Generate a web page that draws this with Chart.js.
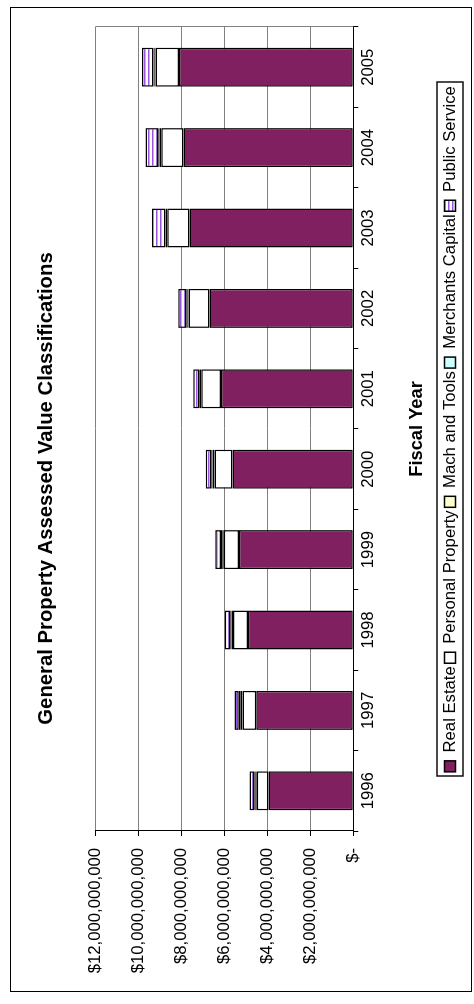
<!DOCTYPE html>
<html>
<head>
<meta charset="utf-8">
<title>General Property Assessed Value Classifications</title>
<script src="https://cdn.jsdelivr.net/npm/chart.js@4.4.0/dist/chart.umd.min.js"></script>
<style>
  html, body { margin: 0; padding: 0; background: #fff; overflow: hidden; }
  /* the chart is drawn landscape and turned a quarter left, like the printed page */
  #wrap {
    position: absolute; left: 0; top: 0;
    width: 1004px; height: 474px;
    transform-origin: 0 0;
    transform: translateY(1004px) rotate(-90deg);
  }
</style>
</head>
<body>
<div id="wrap"><canvas id="chart" width="1004" height="474"></canvas></div>
<script>
// data (dollars)
var years = ['1996', '1997', '1998', '1999', '2000', '2001', '2002', '2003', '2004', '2005'];
var realEstate     = [3.95e9, 4.52e9, 4.90e9, 5.32e9, 5.62e9, 6.16e9, 6.69e9, 7.62e9, 7.90e9, 8.11e9];
var personalProp   = [0.54e9, 0.64e9, 0.70e9, 0.71e9, 0.84e9, 0.91e9, 0.98e9, 1.04e9, 1.04e9, 1.09e9];
var machTools      = [0.07e9, 0.10e9, 0.07e9, 0.07e9, 0.09e9, 0.06e9, 0.06e9, 0.05e9, 0.08e9, 0.06e9];
var merchantsCap   = [0.05e9, 0.07e9, 0.05e9, 0.05e9, 0.06e9, 0.04e9, 0.04e9, 0.03e9, 0.05e9, 0.04e9];
var publicService  = [0.22e9, 0.20e9, 0.26e9, 0.27e9, 0.25e9, 0.28e9, 0.37e9, 0.63e9, 0.60e9, 0.53e9];
var valueTicks = [0, 2e9, 4e9, 6e9, 8e9, 10e9, 12e9];

var FONT = '"Liberation Sans", Arial, sans-serif';
var LEGEND_SIZE = 16.7, LEGEND_BOX = 11, LEGEND_PAD = 3;

// striped fill for Public Service
function stripes() {
  var c = document.createElement('canvas');
  c.width = 4; c.height = 4;
  var g = c.getContext('2d');
  g.fillStyle = '#fff';
  g.fillRect(0, 0, 4, 4);
  g.fillStyle = '#9955dd';
  g.fillRect(0, 0, 4, 1.5);
  return g.createPattern(c, 'repeat');
}

function ds(label, data, fill) {
  return {
    label: label,
    data: data,
    backgroundColor: fill,
    borderColor: '#000',
    borderWidth: 1.5,
    borderSkipped: false,
    categoryPercentage: 1,
    barPercentage: 0.485
  };
}

// outer frame, plot edge and legend box
var framePlugin = {
  id: 'frame',
  afterLayout: function(chart) {
    // title sits a bit right of the canvas centre
    if (chart.titleBlock) {
      chart.titleBlock.left += 27;
      chart.titleBlock.right += 27;
    }
  },
  afterDraw: function(chart) {
    var ctx = chart.ctx, a = chart.chartArea;
    ctx.save();

    // legend box (legend row is centred under the plot)
    ctx.font = LEGEND_SIZE + 'px ' + FONT;
    var rowW = 0;
    chart.data.datasets.forEach(function(d, i) {
      rowW += LEGEND_BOX + LEGEND_SIZE / 2 + ctx.measureText(d.label).width;
      if (i > 0) rowW += LEGEND_PAD;
    });
    var start = (a.left + a.right) / 2 - rowW / 2;
    var mid = chart.scales.x.bottom + LEGEND_PAD + LEGEND_SIZE / 2;
    ctx.strokeStyle = '#111';
    ctx.lineWidth = 1.5;
    ctx.strokeRect(Math.round(start - 4), Math.round(mid - 13), Math.round(rowW + 8), 26);

    // outer frame
    ctx.lineWidth = 1;
    ctx.strokeStyle = '#000';
    ctx.strokeRect(12.5, 10.5, 984, 461);

    // grey edge of the plot area
    ctx.strokeStyle = '#808080';
    ctx.beginPath();
    ctx.moveTo(Math.round(a.right) + 0.5, a.top);
    ctx.lineTo(Math.round(a.right) + 0.5, a.bottom);
    ctx.stroke();
    ctx.restore();
  }
};

new Chart(document.getElementById('chart').getContext('2d'), {
  type: 'bar',
  data: {
    labels: years,
    datasets: [
      ds('Real Estate', realEstate, '#802060'),
      ds('Personal Property', personalProp, '#ffffff'),
      ds('Mach and Tools', machTools, '#ffffcc'),
      ds('Merchants Capital', merchantsCap, '#ccffff'),
      ds('Public Service', publicService, stripes())
    ]
  },
  options: {
    responsive: false,
    devicePixelRatio: 1,
    animation: false,
    layout: { padding: { left: 0, right: 27, top: 0, bottom: 5.7 } },
    plugins: {
      title: {
        display: true,
        text: 'General Property Assessed Value Classifications',
        color: '#000',
        font: { family: FONT, size: 20.3, weight: 'bold' },
        padding: { top: 34, bottom: 37 }
      },
      legend: {
        position: 'bottom',
        fullSize: false,
        labels: {
          color: '#000',
          font: { family: FONT, size: LEGEND_SIZE },
          boxWidth: LEGEND_BOX,
          boxHeight: LEGEND_BOX,
          padding: LEGEND_PAD
        }
      },
      tooltip: { enabled: false }
    },
    scales: {
      x: {
        stacked: true,
        grid: { offset: true, drawOnChartArea: false, color: '#000', tickColor: '#000', tickLength: 5 },
        border: { color: '#000', width: 1 },
        ticks: { color: '#000', font: { family: FONT, size: 16.7 }, padding: 0, maxRotation: 0, autoSkip: false },
        title: {
          display: true,
          text: 'Fiscal Year',
          color: '#000',
          font: { family: FONT, size: 18.3, weight: 'bold' },
          padding: { top: 0, bottom: 11 }
        },
        afterFit: function(s) { s.height = 85.3; }
      },
      y: {
        stacked: true,
        min: 0,
        max: 12e9,
        afterBuildTicks: function(s) {
          s.ticks = valueTicks.map(function(v) { return { value: v }; });
        },
        grid: {
          color: function(c) { return c.tick && c.tick.value === 0 ? '#000' : '#808080'; },
          tickColor: '#000',
          tickLength: 5
        },
        border: { color: '#000', width: 1 },
        ticks: {
          color: '#000',
          font: { family: FONT, size: 16.7 },
          padding: 12,
          callback: function(v) {
            return v === 0 ? '$-' : '$' + Number(v).toLocaleString('en-US');
          }
        },
        afterFit: function(s) { s.width = 173; }
      }
    }
  },
  plugins: [framePlugin]
});
</script>
</body>
</html>
